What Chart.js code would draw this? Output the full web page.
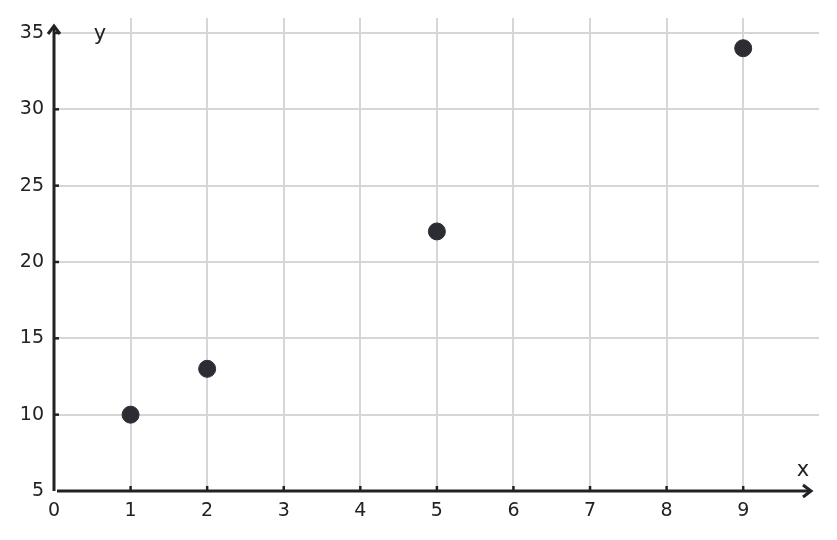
<!DOCTYPE html>
<html>
<head>
<meta charset="utf-8">
<script src="https://cdn.jsdelivr.net/npm/chart.js@4/dist/chart.umd.min.js"></script>
<style>
  body { margin: 0; background: #fff; }
  #wrap { width: 837px; height: 540px; }
</style>
</head>
<body>
<div id="wrap"><canvas id="chart" width="837" height="540"></canvas></div>
<script>
// data
var xValues = [1, 2, 5, 9];
var yValues = [10, 13, 22, 34];
var xTicks = [0, 1, 2, 3, 4, 5, 6, 7, 8, 9];
var yTicks = [5, 10, 15, 20, 25, 30, 35];

var points = xValues.map(function (x, i) { return { x: x, y: yValues[i] }; });
var ink = '#222226';

// draws the arrowed axes, tick marks and the x / y labels
var axesPlugin = {
    id: 'axes',
    afterDraw: function (chart) {
        var ctx = chart.ctx;
        var xs = chart.scales.x, ys = chart.scales.y;
        var x0 = xs.getPixelForValue(0);
        var y0 = ys.getPixelForValue(5);
        var a = chart.chartArea;
        ctx.save();
        ctx.strokeStyle = ink;
        ctx.lineWidth = 3;
        ctx.lineCap = 'butt';

        // x axis
        ctx.beginPath();
        ctx.moveTo(x0 + 3, y0);
        ctx.lineTo(a.right - 8, y0);
        ctx.stroke();
        ctx.beginPath();
        ctx.lineJoin = 'miter';
        ctx.moveTo(a.right - 16, y0 - 6);
        ctx.lineTo(a.right - 8, y0);
        ctx.lineTo(a.right - 16, y0 + 6);
        ctx.stroke();

        // y axis
        ctx.beginPath();
        ctx.moveTo(x0, y0);
        ctx.lineTo(x0, a.top + 8);
        ctx.stroke();
        ctx.beginPath();
        ctx.moveTo(x0 - 6, a.top + 16);
        ctx.lineTo(x0, a.top + 8);
        ctx.lineTo(x0 + 6, a.top + 16);
        ctx.stroke();

        // tick marks
        ctx.lineWidth = 2.5;
        xTicks.forEach(function (v) {
            if (v === 0) return;
            var px = xs.getPixelForValue(v);
            ctx.beginPath();
            ctx.moveTo(px, y0);
            ctx.lineTo(px, y0 - 5);
            ctx.stroke();
        });
        yTicks.forEach(function (v) {
            if (v === 5) return;
            var py = ys.getPixelForValue(v);
            ctx.beginPath();
            ctx.moveTo(x0, py);
            ctx.lineTo(x0 + 5, py);
            ctx.stroke();
        });

        // axis names
        ctx.fillStyle = ink;
        ctx.font = '21px "DejaVu Sans"';
        ctx.textAlign = 'center';
        ctx.textBaseline = 'middle';
        ctx.fillText('x', a.right - 16, y0 - 20);
        ctx.fillText('y', x0 + 46, a.top + 17);
        ctx.restore();
    }
};

new Chart(document.getElementById('chart'), {
    type: 'scatter',
    data: {
        datasets: [{
            data: points,
            backgroundColor: '#2b2d33',
            borderColor: '#2b2d33',
            pointRadius: 8.5,
            pointHoverRadius: 8.5
        }]
    },
    options: {
        responsive: false,
        animation: false,
        layout: { padding: { top: 18, right: 18, left: 0, bottom: 0 } },
        plugins: { legend: { display: false }, tooltip: { enabled: false } },
        scales: {
            x: {
                type: 'linear',
                min: 0,
                max: 9.99,
                afterBuildTicks: function (s) {
                    s.ticks = xTicks.map(function (v) { return { value: v }; });
                },
                afterFit: function (s) { s.height = 49; s.paddingLeft = 0; s.paddingRight = 0; },
                border: { display: false },
                grid: {
                    color: function (c) { return c.tick && c.tick.value === 0 ? 'rgba(0,0,0,0)' : '#d6d6d6'; },
                    lineWidth: 2,
                    drawTicks: false
                },
                ticks: {
                    color: ink,
                    padding: 9,
                    maxRotation: 0,
                    autoSkip: false,
                    font: { family: '"DejaVu Sans"', size: 19 }
                }
            },
            y: {
                type: 'linear',
                min: 5,
                max: 35.98,
                afterBuildTicks: function (s) {
                    s.ticks = yTicks.map(function (v) { return { value: v }; });
                },
                afterFit: function (s) { s.width = 54; s.paddingTop = 0; s.paddingBottom = 0; },
                border: { display: false },
                grid: {
                    color: function (c) { return c.tick && c.tick.value === 5 ? 'rgba(0,0,0,0)' : '#d6d6d6'; },
                    lineWidth: 2,
                    drawTicks: false
                },
                ticks: {
                    color: ink,
                    padding: 10,
                    autoSkip: false,
                    font: { family: '"DejaVu Sans"', size: 19 }
                }
            }
        }
    },
    plugins: [axesPlugin]
});
</script>
</body>
</html>
